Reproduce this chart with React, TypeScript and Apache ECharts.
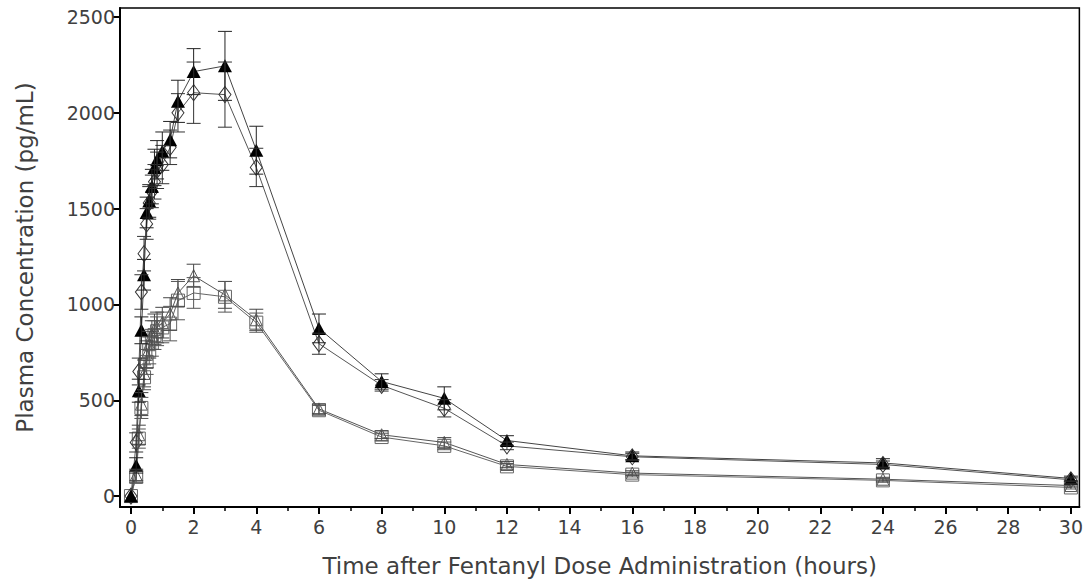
import React, { useEffect, useRef } from "react";
import * as echarts from "echarts";

const times = [0, 0.167, 0.25, 0.333, 0.417, 0.5, 0.583, 0.667, 0.75, 0.833, 1, 1.25, 1.5, 2, 3, 4, 6, 8, 10, 12, 16, 24, 30];

const filledTri = [0, 160, 550, 865, 1155, 1480, 1540, 1615, 1715, 1755, 1800, 1860, 2060, 2215, 2245, 1805, 875, 598, 510, 290, 210, 173, 92];
const filledTriErr = [0, 40, 60, 70, 80, 80, 85, 90, 95, 100, 100, 95, 110, 120, 180, 125, 75, 40, 60, 25, 20, 22, 12];

const openDiamond = [0, 280, 650, 1065, 1265, 1420, 1530, 1590, 1640, 1700, 1730, 1820, 2000, 2105, 2095, 1715, 795, 578, 458, 262, 205, 165, 85];
const openDiamondErr = [0, 50, 70, 90, 90, 80, 85, 85, 90, 95, 100, 90, 100, 160, 170, 100, 55, 30, 45, 20, 18, 18, 10];

const openTri = [0, 110, 320, 480, 640, 740, 790, 840, 870, 880, 905, 950, 1060, 1150, 1050, 920, 455, 320, 280, 165, 120, 88, 55];
const openTriErr = [0, 30, 50, 60, 70, 70, 70, 75, 80, 80, 80, 85, 70, 60, 70, 55, 25, 20, 25, 15, 12, 10, 8];

const openSquare = [0, 100, 300, 460, 620, 700, 760, 800, 840, 860, 880, 900, 1020, 1060, 1040, 905, 448, 308, 262, 155, 112, 82, 45];
const openSquareErr = [0, 30, 50, 55, 65, 65, 70, 70, 75, 75, 80, 90, 100, 80, 80, 50, 25, 20, 20, 15, 12, 10, 8];

const xMajorTicks = [0, 2, 4, 6, 8, 10, 12, 14, 16, 18, 20, 22, 24, 26, 28, 30];
const xMinorTicks = [1, 3, 5, 7, 9, 11, 13, 15, 17, 19, 21, 23, 25, 27, 29];
const yTicks = [0, 500, 1000, 1500, 2000, 2500];

const X_MIN = -0.35;
const X_MAX = 30.27;
const Y_MIN = -57;
const Y_MAX = 2547;

const FONT = "DejaVu Sans";
const TEXT = "#404040";

function lineSeries(name: string, vals: number[], symbol: string, size: number | number[], itemStyle: any, lineColor: string, z: number) {
  return {
    name,
    type: "line",
    data: times.map((t, i) => [t, vals[i]]),
    symbol,
    symbolSize: size,
    showAllSymbol: true,
    lineStyle: { color: lineColor, width: 1 },
    itemStyle,
    z,
  };
}

function errSeries(vals: number[], errs: number[], color: string, z: number) {
  const data = times
    .map((t, i) => [t, vals[i] - errs[i], vals[i] + errs[i]])
    .filter((d, i) => errs[i] > 0);
  return {
    type: "custom",
    data,
    encode: { x: 0, y: [1, 2] },
    z,
    renderItem: (params: any, api: any) => {
      const x = api.value(0);
      const lo = api.coord([x, api.value(1)]);
      const hi = api.coord([x, api.value(2)]);
      const w = 7;
      const style = { stroke: color, lineWidth: 1 };
      return {
        type: "group",
        children: [
          { type: "line", shape: { x1: lo[0], y1: lo[1], x2: hi[0], y2: hi[1] }, style },
          { type: "line", shape: { x1: lo[0] - w, y1: lo[1], x2: lo[0] + w, y2: lo[1] }, style },
          { type: "line", shape: { x1: hi[0] - w, y1: hi[1], x2: hi[0] + w, y2: hi[1] }, style },
        ],
      };
    },
  };
}

export default function App() {
  const ref = useRef<HTMLDivElement>(null);
  useEffect(() => {
    if (!ref.current) return;
    const chart = echarts.init(ref.current, null, { renderer: "svg" });
    const option: any = {
      animation: false,
      backgroundColor: "#ffffff",
      grid: {
        left: 120,
        right: 6,
        top: 8,
        bottom: 79,
        show: true,
        borderColor: "#000",
        borderWidth: 1.5,
      },
      xAxis: [
        {
          type: "value",
          min: X_MIN,
          max: X_MAX,
          name: "Time after Fentanyl Dose Administration (hours)",
          nameLocation: "middle",
          nameGap: 47,
          nameTextStyle: { fontFamily: FONT, fontSize: 23, color: TEXT },
          axisLine: { show: true, onZero: false, lineStyle: { color: "#000", width: 2 } },
          axisTick: { show: true, customValues: xMajorTicks, length: 7, inside: false, lineStyle: { color: "#000", width: 2 } },
          axisLabel: { show: true, customValues: xMajorTicks, fontFamily: FONT, fontSize: 19, color: TEXT, margin: 10 },
          splitLine: { show: false },
        },
        {
          type: "value",
          min: X_MIN,
          max: X_MAX,
          position: "bottom",
          axisLine: { show: false, onZero: false },
          axisTick: { show: true, customValues: xMinorTicks, length: 4, lineStyle: { color: "#000", width: 1.5 } },
          axisLabel: { show: false },
          splitLine: { show: false },
        },
      ],
      yAxis: {
        type: "value",
        min: Y_MIN,
        max: Y_MAX,
        name: "Plasma Concentration (pg/mL)",
        nameLocation: "middle",
        nameGap: 84,
        nameRotate: 90,
        nameTextStyle: { fontFamily: FONT, fontSize: 23, color: TEXT },
        axisLine: { show: true, onZero: false, lineStyle: { color: "#000", width: 2 } },
        axisTick: { show: true, customValues: yTicks, length: 7, lineStyle: { color: "#000", width: 2 } },
        axisLabel: {
          show: true,
          customValues: yTicks,
          fontFamily: FONT,
          fontSize: 19,
          color: TEXT,
          margin: 5,
          formatter: (v: number) => String(v),
        },
        splitLine: { show: false },
      },
      series: [
        lineSeries("Low A", openTri, "triangle", [12, 12], { color: "rgba(255,255,255,0)", borderColor: "#555", borderWidth: 1 }, "#555", 2),
        lineSeries("Low B", openSquare, "rect", [13, 13], { color: "rgba(255,255,255,0)", borderColor: "#666", borderWidth: 1 }, "#666", 2),
        lineSeries("High B", openDiamond, "diamond", [12, 16], { color: "rgba(255,255,255,0)", borderColor: "#333", borderWidth: 1 }, "#555", 3),
        lineSeries("High A", filledTri, "triangle", [14, 13], { color: "#000", borderColor: "#000", borderWidth: 0 }, "#444", 4),
        errSeries(openTri, openTriErr, "#444", 5),
        errSeries(openSquare, openSquareErr, "#555", 5),
        errSeries(openDiamond, openDiamondErr, "#333", 5),
        errSeries(filledTri, filledTriErr, "#222", 5),
      ],
    };
    chart.setOption(option);
    return () => chart.dispose();
  }, []);
  return <div ref={ref} style={{ position: "fixed", left: 0, top: 0, width: 1086, height: 586 }} />;
}
